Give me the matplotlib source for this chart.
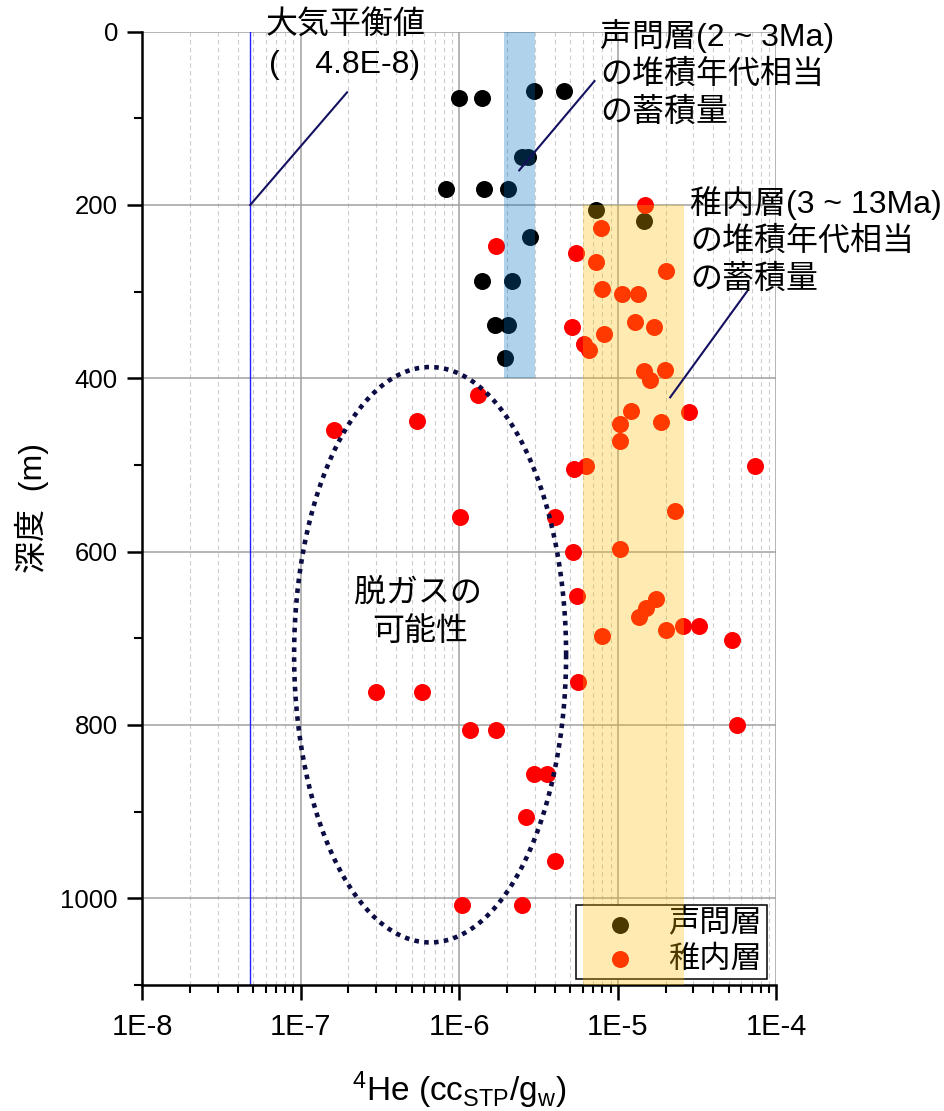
import numpy as np
import matplotlib
matplotlib.use('Agg')
import matplotlib.pyplot as plt
from matplotlib.ticker import FixedLocator, FuncFormatter, LogLocator, MultipleLocator

plt.rcParams['font.family'] = ['Liberation Sans', 'Noto Sans CJK JP']
plt.rcParams['mathtext.fontset'] = 'custom'
plt.rcParams['mathtext.rm'] = 'Liberation Sans'
plt.rcParams['mathtext.it'] = 'Liberation Sans:italic'

# 声問層 (black)
he_koetoi = [1.0e-6, 1.4e-6, 2.96e-6, 4.6e-6, 2.5e-6, 2.7e-6, 8.2e-7, 1.43e-6, 2.04e-6,
             2.8e-6, 1.39e-6, 2.16e-6, 1.69e-6, 2.04e-6, 1.93e-6, 7.26e-6, 1.47e-5]
dep_koetoi = [77, 77, 69, 69, 145, 145, 181, 181, 182,
              237, 288, 288, 338, 338, 377, 206, 218]

# 稚内層 (red)
he_wakkanai = [1.49e-5, 7.85e-6, 5.46e-6, 7.3e-6, 2.02e-5, 8.0e-6, 1.07e-5, 1.35e-5,
               1.28e-5, 1.68e-5, 5.13e-6, 8.13e-6, 6.14e-6, 6.63e-6, 1.47e-5, 1.99e-5,
               1.6e-5, 1.71e-6, 1.21e-5, 2.82e-5, 1.03e-5, 1.87e-5, 1.03e-5, 5.3e-6,
               6.33e-6, 7.38e-5, 4.02e-6, 2.29e-5, 5.18e-6, 1.03e-5, 1.62e-7, 5.45e-7,
               1.32e-6, 1.01e-6, 5.5e-6, 7.95e-6, 1.74e-5, 1.5e-5, 1.36e-5, 2.01e-5,
               2.59e-5, 3.27e-5, 5.26e-5, 5.6e-6, 3.0e-7, 5.86e-7, 5.62e-5, 1.17e-6,
               1.7e-6, 2.94e-6, 3.6e-6, 2.63e-6, 4.0e-6, 1.04e-6, 2.47e-6]
dep_wakkanai = [200, 226, 255, 266, 276, 297, 303, 303,
                335, 341, 341, 349, 361, 367, 392, 391,
                402, 247, 438, 439, 453, 450, 472, 505,
                501, 501, 560, 553, 601, 597, 460, 449,
                419, 560, 651, 697, 655, 665, 675, 690,
                686, 686, 702, 750, 762, 762, 800, 806,
                806, 857, 857, 906, 957, 1008, 1008]

atm_eq = 4.8e-8
band_koetoi = (1.92e-6, 3e-6, 0, 400)
band_wakkanai = (6e-6, 2.6e-5, 200, 1100)

fig = plt.figure(figsize=(9.45, 11.11), dpi=100)
ax = fig.add_axes([0.1505, 0.1135, 0.671, 0.858])

ax.scatter(he_koetoi, dep_koetoi, s=150, color='black', lw=0, zorder=2, label='声問層')
ax.scatter(he_wakkanai, dep_wakkanai, s=150, color='red', lw=0, zorder=2, label='稚内層')

ax.fill_betweenx([band_koetoi[2], band_koetoi[3]], band_koetoi[0], band_koetoi[1],
                 color='#0070C0', alpha=0.31, lw=0, zorder=3)
ax.fill_betweenx([band_wakkanai[2], band_wakkanai[3]], band_wakkanai[0], band_wakkanai[1],
                 color='#FFC000', alpha=0.3, lw=0, zorder=3)

ax.axvline(atm_eq, color='#2020FF', lw=1.0, zorder=2)

# degassing ellipse (drawn in log-x space)
t = np.linspace(0, 2 * np.pi, 400)
ax.plot(10 ** (-6.184 + 0.858 * np.cos(t)), 719 + 332 * np.sin(t),
        color='#0D0D45', lw=3.3, ls=(0, (1.0, 1.15)), dash_capstyle='butt', zorder=4)

# leader lines
navy = '#141060'
ax.plot([4.8e-8, 1.96e-7], [200, 70], color=navy, lw=1.5, zorder=4)
ax.plot([2.39e-6, 7.13e-6], [160, 57], color=navy, lw=1.5, zorder=4)
ax.plot([2.14e-5, 6.52e-5], [422, 300], color=navy, lw=1.5, zorder=4)

ax.set_xscale('log')
ax.set_xlim(1e-8, 1e-4)
ax.set_ylim(1100, 0)

ax.xaxis.set_major_locator(FixedLocator([1e-8, 1e-7, 1e-6, 1e-5, 1e-4]))
ax.xaxis.set_minor_locator(LogLocator(base=10, subs=np.arange(2, 10)))
ax.xaxis.set_major_formatter(FuncFormatter(lambda v, p: '1E%d' % round(np.log10(v))))
ax.yaxis.set_major_locator(MultipleLocator(200))
ax.yaxis.set_minor_locator(MultipleLocator(100))

ax.grid(which='major', axis='both', color='#A0A0A0', lw=1.1, zorder=0)
ax.grid(which='minor', axis='x', color='#CCCCCC', lw=0.8, ls=(0, (4, 3)), zorder=0)
ax.get_ygridlines()[0].set_visible(False)
ax.set_axisbelow(True)

for s in ['top', 'right']:
    ax.spines[s].set_visible(False)
for s in ['left', 'bottom']:
    ax.spines[s].set_linewidth(1.8)

ax.tick_params(axis='both', which='major', direction='out', length=10.5, width=1.8,
               labelsize=18.5, pad=7)
ax.tick_params(axis='both', which='minor', direction='out', length=6, width=1.5)
ax.tick_params(axis='x', which='major', pad=10, labelsize=21)

ax.set_xlabel(r'$^{4}$He (cc$_{\mathrm{STP}}$/g$_{\mathrm{w}}$)', fontsize=24, labelpad=20)
ax.set_ylabel('深度  (m)', fontsize=23, labelpad=8)

leg = ax.legend(loc='lower right', bbox_to_anchor=(0.985, 0.006), borderaxespad=0,
                fontsize=22.5, frameon=True, fancybox=False, edgecolor='black',
                framealpha=1, borderpad=0.15, handlelength=2.5, handletextpad=0.3,
                labelspacing=0.15, scatterpoints=1)
leg.get_frame().set_linewidth(1.1)
leg.set_zorder(2.5)


def ftext(px, py, s, ha='center'):
    fig.text(px / 945, 1 - py / 1111, s, fontsize=23, ha=ha, va='center', zorder=6)


ftext(346, 25, '大気平衡値')
ftext(345, 65, '(    4.8E-8)')
ftext(600, 36, '声問層(2 ~ 3Ma)', ha='left')
ftext(600, 75, 'の堆積年代相当', ha='left')
ftext(600, 113, 'の蓄積量', ha='left')
ftext(690, 203, '稚内層(3 ~ 13Ma)', ha='left')
ftext(690, 242, 'の堆積年代相当', ha='left')
ftext(690, 280, 'の蓄積量', ha='left')
ftext(418, 594, '脱ガスの')
ftext(420, 632, '可能性')

fig.savefig('out.png', dpi=100)
